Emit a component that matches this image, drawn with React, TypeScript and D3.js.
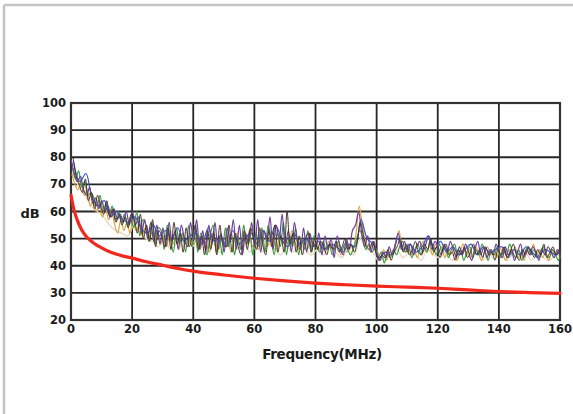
import React from "react";
import * as d3 from "d3";

const xTicks = [0, 20, 40, 60, 80, 100, 120, 140, 160];
const yTicks = [20, 30, 40, 50, 60, 70, 80, 90, 100];

// 1 MHz step series (0..160)
const seriesA = [
  79,74,71,73,68,66,69,63,65,61,64,60,62,58,61,57,59,56,60,55,
  60,55,58,52,57,50,56,49,55,48,54,47,56,49,53,46,55,50,47,56,
  49,57,46,53,45,55,48,56,46,52,45,54,49,57,46,55,44,52,48,56,
  47,57,45,53,49,58,46,55,50,59,47,53,45,56,49,46,54,45,52,48,
  47,52,44,51,46,50,43,51,47,44,50,46,53,55,60,52,47,51,45,49,
  44,42,45,43,47,44,48,52,46,49,45,48,44,47,49,45,48,51,46,49,
  47,44,48,45,49,46,43,47,44,48,45,42,46,49,44,47,43,46,44,48,
  45,43,47,44,46,42,45,48,43,46,44,47,45,42,46,44,47,45,43,46,
  44,
];
const seriesB = [
  76,72,75,69,71,66,67,65,62,66,60,63,59,62,57,60,56,59,55,58,
  54,60,51,57,55,49,56,48,54,53,46,55,50,45,54,48,52,45,55,47,
  54,45,52,49,44,51,55,45,51,44,54,47,52,44,51,46,55,48,52,44,
  52,47,54,45,55,50,44,52,47,56,44,51,47,54,44,50,46,53,45,51,
  47,45,49,46,48,44,47,49,45,48,46,44,47,50,53,50,46,48,45,47,
  43,45,41,44,43,46,44,47,49,45,47,43,46,48,44,47,45,49,47,44,
  48,45,47,43,46,48,44,46,42,45,47,43,46,44,48,45,42,46,44,47,
  43,46,44,48,45,43,46,42,45,47,44,46,43,45,47,44,43,46,44,42,
  45,
];
const seriesC = [
  74,70,68,71,66,68,62,64,60,63,58,61,57,60,55,52,57,53,56,52,
  57,53,55,51,54,50,52,49,53,48,51,47,52,48,50,46,51,49,47,52,
  48,51,46,50,48,45,52,48,46,50,47,51,45,49,52,47,50,48,53,47,
  50,46,49,53,47,51,49,46,52,48,50,47,53,49,46,50,48,46,49,47,
  49,46,48,45,49,47,46,48,44,47,45,48,46,52,62,55,49,47,48,46,
  45,43,46,42,45,44,48,53,47,45,48,44,46,43,47,49,45,47,44,48,
  45,47,43,46,44,47,42,45,48,44,46,43,47,45,42,45,47,44,46,43,
  47,44,42,46,44,47,43,45,42,46,44,48,44,46,43,45,42,46,44,45,
  43,
];
const seriesD = [
  80,73,70,67,72,64,67,61,66,62,59,64,58,61,56,59,55,58,54,59,
  57,52,59,50,55,49,57,47,53,51,47,54,46,56,48,52,45,54,47,51,
  55,46,51,44,53,46,52,44,55,48,47,55,45,52,47,44,53,46,54,50,
  46,54,48,44,53,47,55,45,51,45,60,48,52,45,51,44,50,52,45,50,
  46,49,47,44,48,46,49,45,47,50,46,48,45,49,56,51,47,46,49,45,
  42,44,43,46,42,45,47,50,45,48,44,46,49,45,44,48,46,50,45,47,
  43,46,48,44,45,42,46,44,47,43,45,48,44,46,43,47,44,45,42,46,
  44,47,43,45,48,44,42,46,44,47,45,43,46,44,48,43,45,47,44,46,
  43,
];
// 2 MHz step series (0..160)
const seriesE = [
  78,71,74,65,62,64,58,60,57,56,
  58,54,52,55,51,53,50,54,49,51,
  52,48,54,49,51,47,53,48,50,52,
  48,53,49,55,50,47,52,48,50,47,
  49,46,48,47,45,48,47,57,50,48,
  43,45,44,50,46,48,45,47,51,46,
  49,45,47,44,46,48,44,47,45,46,
  47,43,46,44,47,45,43,46,45,44,
  46,
];
const seriesF = [
  75,69,66,62,60,58,55,53,52,51,
  55,52,50,49,47,50,46,48,47,49,
  47,50,46,48,45,47,49,46,48,45,
  47,45,48,46,44,47,45,48,46,44,
  46,44,47,45,43,46,44,50,46,45,
  42,43,44,46,43,45,44,42,46,44,
  43,45,42,44,46,43,45,42,44,43,
  45,42,44,43,45,42,44,43,42,44,
  43,
];

const limitFreq = [0,1,2,3,4,5,6,8,10,13,16,20,25,30,35,40,50,60,70,80,90,100,110,120,130,140,150,160];
const limitDb = [66,60.5,57,54.3,52.3,50.8,49.6,47.9,46.6,45,43.9,42.8,41.4,40.2,39,38,36.6,35.4,34.4,33.6,33,32.5,32.1,31.7,31.1,30.5,30.1,29.8];

const W = 573, H = 414;
const left = 71, right = 560, top = 103, bottom = 320;

export default function App() {
  const x = d3.scaleLinear().domain([0, 160]).range([left, right]);
  const y = d3.scaleLinear().domain([20, 100]).range([bottom, top]);
  const line = d3.line<[number, number]>().x(d => x(d[0])).y(d => y(d[1])).curve(d3.curveCatmullRom.alpha(0.5));
  const smooth = d3.line<[number, number]>().x(d => x(d[0])).y(d => y(d[1])).curve(d3.curveMonotoneX);

  const mk = (arr: number[], step: number, off = 0) =>
    arr.map((v, i) => [Math.min(160, i * step + off), v] as [number, number]);

  const noise = [
    { data: mk(seriesF, 2, 0.6), color: "#eadcc6", w: 1.5 },
    { data: mk(seriesC, 1, 0.3), color: "#d9a441", w: 1.2 },
    { data: mk(seriesB, 1, 0.5), color: "#3a9e3f", w: 1.2 },
    { data: mk(seriesE, 2, 0.9), color: "#3558c8", w: 1.2 },
    { data: mk(seriesA, 1, 0.1), color: "#6d3f9c", w: 1.2 },
    { data: mk(seriesD, 1, 0.7), color: "#4a3324", w: 1.0 },
  ];
  const limit = limitFreq.map((f, i) => [f, limitDb[i]] as [number, number]);

  const font = "'DejaVu Sans', Verdana, sans-serif";

  return (
    <svg width={W} height={H} style={{ position: "absolute", left: 0, top: 0, background: "#fff" }}>
      <line x1={4} y1={5} x2={W} y2={5} stroke="#c4c4c4" strokeWidth={2.5} />
      <line x1={4} y1={5} x2={4} y2={H} stroke="#c4c4c4" strokeWidth={2.5} />

      {yTicks.map(t => (
        <line key={"h" + t} x1={left} x2={right} y1={y(t)} y2={y(t)} stroke="#262626" strokeWidth={1.8} />
      ))}
      {xTicks.map(t => (
        <line key={"v" + t} x1={x(t)} x2={x(t)} y1={top} y2={bottom} stroke="#262626" strokeWidth={1.8} />
      ))}
      <rect x={left} y={top} width={right - left} height={bottom - top} fill="none" stroke="#333" strokeWidth={2.2} />

      {noise.map((s, i) => (
        <path key={i} d={line(s.data) || ""} fill="none" stroke={s.color} strokeWidth={s.w} strokeLinejoin="round" />
      ))}
      <path d={smooth(limit) || ""} fill="none" stroke="#f2281c" strokeWidth={3.2} strokeLinecap="round" />

      {yTicks.map(t => (
        <text key={"yl" + t} x={left - 5} y={y(t)} dy="0.35em" textAnchor="end" fontFamily={font}
          fontWeight="bold" fontSize={11.5} fill="#1a1a1a">{t}</text>
      ))}
      {xTicks.map(t => (
        <text key={"xl" + t} x={x(t)} y={bottom + 13} textAnchor="middle" fontFamily={font}
          fontWeight="bold" fontSize={11.5} fill="#1a1a1a">{t}</text>
      ))}
      <text x={30} y={213} dy="0.35em" textAnchor="middle" fontFamily={font} fontWeight="bold" fontSize={13} fill="#1a1a1a">dB</text>
      <text x={322} y={354} dy="0.35em" textAnchor="middle" fontFamily={font} fontWeight="bold" fontSize={13.5} fill="#1a1a1a" letterSpacing={-0.3}>Frequency(MHz)</text>
    </svg>
  );
}
